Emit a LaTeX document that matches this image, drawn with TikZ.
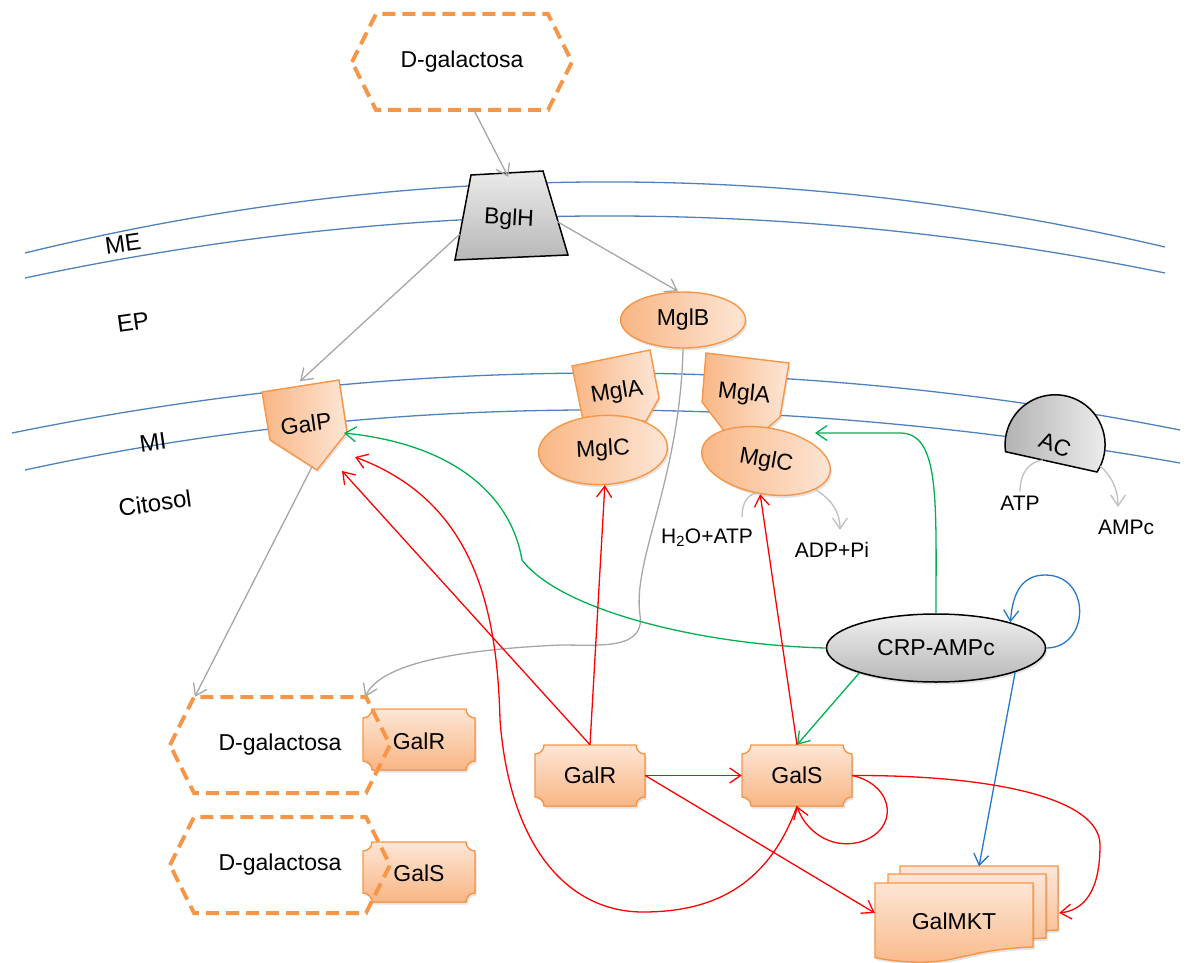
\documentclass[tikz,border=0pt]{standalone}
\usepackage{fontspec}
\setmainfont{Liberation Sans}
\usetikzlibrary{arrows.meta,shapes.geometric,shadows}

\definecolor{memb}{HTML}{4F81BD}
\definecolor{orl}{HTML}{F79646}
\definecolor{orA}{HTML}{F9B684}
\definecolor{orB}{HTML}{FDE6D6}
\definecolor{gtr}{HTML}{A6A6A6}
\definecolor{glt}{HTML}{BFBFBF}
\definecolor{rd}{HTML}{FF0000}
\definecolor{gn}{HTML}{00B050}
\definecolor{bl}{HTML}{2878C8}

% outline helpers (centre x, centre y, ...)
\newcommand\hexapath[2]{({#1-110},{#2}) -- ({#1-86},{#2+48}) -- ({#1+86},{#2+48}) -- ({#1+110},{#2}) -- ({#1+86},{#2-48}) -- ({#1-86},{#2-48}) -- cycle}
\newcommand\plaquepath[4]{%
({#1-#3+9},{#2+#4}) -- ({#1+#3-9},{#2+#4})
.. controls ({#1+#3-9},{#2+#4-5}) and ({#1+#3-5},{#2+#4-9}) .. ({#1+#3},{#2+#4-9})
-- ({#1+#3},{#2-#4+9})
.. controls ({#1+#3-5},{#2-#4+9}) and ({#1+#3-9},{#2-#4+5}) .. ({#1+#3-9},{#2-#4})
-- ({#1-#3+9},{#2-#4})
.. controls ({#1-#3+9},{#2-#4+5}) and ({#1-#3+5},{#2-#4+9}) .. ({#1-#3},{#2-#4+9})
-- ({#1-#3},{#2+#4-9})
.. controls ({#1-#3+5},{#2+#4-9}) and ({#1-#3+9},{#2+#4-5}) .. ({#1-#3+9},{#2+#4})
-- cycle}
\newcommand\docpath[2]{({#1},{#2}) -- ({#1+158},{#2}) -- ({#1+158},{#2-64}) .. controls ({#1+79},{#2-66.7}) and ({#1+79},{#2-88.6}) .. ({#1},{#2-74.7}) -- cycle}

\begin{document}
\begin{tikzpicture}[x=1pt,y=1pt,
  txt/.style={font=\fontsize{23}{27}\selectfont, inner sep=0pt},
  small/.style={font=\fontsize{21}{25}\selectfont, inner sep=0pt},
  lbl/.style={font=\fontsize{24}{28}\selectfont, inner sep=0pt, rotate=8},
  arr/.style={line width=1.3pt, -{Straight Barb[length=11pt,width=15pt]}},
  grayarr/.style={arr, draw=gtr},
  lgrayarr/.style={arr, draw=glt},
  redarr/.style={arr, draw=rd},
  greenarr/.style={arr, draw=gn},
  bluearr/.style={arr, draw=bl},
  membrane/.style={draw=memb, line width=1.3pt},
  shade/.style={drop shadow={opacity=0.22, shadow xshift=1.5pt, shadow yshift=-2.5pt}},
  orangeTB/.style={draw=orl, line width=1.4pt, top color=orB, bottom color=orA},
  orangeLR/.style={draw=orl, line width=1.4pt, left color=orA, right color=orB},
  greyfill/.style={draw=black, line width=1.5pt, top color=black!8, bottom color=black!28},
  dashhex/.style={draw=orl, line width=4pt, dash pattern=on 13pt off 7pt}
]
\useasboundingbox (0,0) rectangle (1188,-963);

% cell envelope: outer membrane (ME) and inner membrane (MI)
\draw[membrane] (25,-253) .. controls (405,-160.3) and (785,-158.3) .. (1165,-247);
\draw[membrane] (25,-278) .. controls (405,-197) and (785,-195.3) .. (1165,-273);
\draw[membrane] (12,-433) .. controls (401.3,-354) and (790.7,-353) .. (1180,-430);
\draw[membrane] (25,-470) .. controls (381.7,-392.3) and (766.7,-390) .. (1180,-463);

\node[lbl] (lme) at (123,-244) {ME};
\node[lbl] (lep) at (133,-322) {EP};
\node[lbl] (lmi) at (153,-442) {MI};
\node[lbl] (lcit) at (155,-503) {Citosol};

% external galactose
\draw[dashhex] \hexapath{462}{-62};
\node[txt, minimum width=220pt, minimum height=96pt] (dtop) at (462,-62) {D-galactosa};

% porin BglH
\filldraw[greyfill] (471,-175) -- (543,-171) -- (568,-255) -- (455,-260) -- cycle;
\node[txt, rotate=-3, minimum width=96pt, minimum height=84pt] (bglh) at (509,-219) {BglH};

% MglB periplasmic binding protein
\node[txt, ellipse, orangeLR, shade, minimum width=125pt, minimum height=56pt] (mglb) at (683,-320) {MglB};

% MglA subunits
\filldraw[orangeLR, shade] (572,-366) -- (650,-350) -- (659,-398) -- (646,-421) -- (583,-420) -- cycle;
\node[txt, rotate=9] (mgla1) at (617,-393) {MglA};
\filldraw[orangeLR, shade] (706,-353) -- (789,-363) -- (780,-417) -- (763,-432) -- (725,-432) -- (702,-402) -- cycle;
\node[txt, rotate=-6] (mgla2) at (744,-394) {MglA};

% MglC subunits
\node[txt, ellipse, orangeLR, shade, rotate=3, minimum width=129pt, minimum height=69pt] (mglc1) at (603,-450) {MglC};
\node[txt, ellipse, orangeLR, shade, rotate=-10, minimum width=130pt, minimum height=66pt] (mglc2) at (766,-461) {MglC};

% GalP permease
\filldraw[orangeLR, shade] (262,-392) -- (339,-380) -- (347,-432) -- (317,-470) -- (270,-440) -- cycle;
\node[txt, rotate=8, minimum width=80pt, minimum height=86pt] (galp) at (306,-424) {GalP};

% adenylate cyclase
\filldraw[draw=black, line width=1.5pt, left color=black!30, right color=black!6] (1097,-472) arc[start angle=-33, end angle=188, radius=50] -- cycle;
\node[txt, rotate=-20] (ac) at (1055,-445) {AC};
\node[small] (atp) at (1020,-503) {ATP};
\node[small] (ampc) at (1126,-527) {AMPc};
\node[small] (h2o) at (707,-538) {H\textsubscript{2}O+ATP};
\node[small] (adp) at (832,-550) {ADP+Pi};

% CRP-cAMP complex
\node[txt, ellipse, draw=black, line width=1.5pt, top color=black!6, bottom color=black!28, shade, minimum width=219pt, minimum height=68pt] (crp) at (936,-648) {CRP-AMPc};

% intracellular galactose bound to regulators
\filldraw[orangeTB, shade] \plaquepath{419}{-739.5}{56}{30.5};
\node[txt] (galr1) at (419,-741) {GalR};
\filldraw[orangeTB, shade] \plaquepath{419}{-872}{56}{30};
\node[txt] (gals1) at (419,-873) {GalS};
\draw[dashhex] \hexapath{280}{-745};
\node[txt, minimum width=220pt, minimum height=96pt] (dgal1) at (280,-745) {D-galactosa};
\draw[dashhex] \hexapath{280}{-865};
\node[txt, minimum width=220pt, minimum height=96pt] (dgal2) at (280,-865) {D-galactosa};

% regulators
\filldraw[orangeTB, shade] \plaquepath{590}{-775.5}{55}{30.5};
\node[txt, minimum width=110pt, minimum height=61pt] (galr) at (590,-775.5) {GalR};
\filldraw[orangeTB, shade] \plaquepath{797}{-775.5}{55}{30.5};
\node[txt, minimum width=110pt, minimum height=61pt] (gals) at (797,-775.5) {GalS};

% galMKT operon
\filldraw[orangeTB, shade] \docpath{900}{-866};
\filldraw[orangeTB, shade] \docpath{888}{-874};
\filldraw[orangeTB, shade] \docpath{875}{-883};
\node[txt, minimum width=158pt, minimum height=75pt] (galmkt) at (954,-921) {GalMKT};

% docking points on the borders
\coordinate (gpG) at (344,-433);
\coordinate (gpR1) at (342,-471);
\coordinate (gpR2) at (355,-457);
\coordinate (mglG) at (815,-433);
\coordinate (acIn) at (1043,-460);
\coordinate (acOut) at (1100,-466);
\coordinate (ampIn) at (1118,-507);
\coordinate (hIn) at (742,-517);
\coordinate (mIn) at (756,-493);
\coordinate (adpIn) at (840,-530);

% transport
\draw[grayarr] ([xshift=12pt]dtop.south) -- ([xshift=-3pt]bglh.north);
\draw[grayarr] (bglh.200) -- (galp.north);
\draw[grayarr] (bglh.east) -- ([xshift=-5pt]mglb.north);
\draw[grayarr] (galp.south) -- ([xshift=25pt]dgal1.north west);
\draw[grayarr] (mglb.south) .. controls (680,-480) and (632,-560) .. (640,-615)
  .. controls (645,-650) and (600,-645) .. (560,-645)
  .. controls (450,-650) and (380,-665) .. ([xshift=-25pt]dgal1.north east);

% energy side reactions
\draw[line width=1.3pt, draw=glt] ([yshift=4pt]atp.north) .. controls (1020,-474) and (1028,-462) .. (acIn);
\draw[lgrayarr] (acOut) .. controls (1112,-476) and (1118,-490) .. (ampIn);
\draw[line width=1.3pt, draw=glt] (hIn) .. controls (742,-502) and (748,-495) .. (mIn);
\draw[lgrayarr] (mglc2.-20) .. controls (832,-500) and (840,-512) .. (adpIn);

% CRP-AMPc activation
\draw[greenarr] (crp.west) .. controls (700,-645) and (560,-610) .. (522,-560)
  .. controls (512,-500) and (460,-445) .. (gpG);
\draw[greenarr] (crp.north) .. controls (936,-500) and (940,-433) .. (900,-433) -- (mglG);
\draw[greenarr] (crp.198) -- (gals.north);
\draw[bluearr] (crp.east) .. controls (1090,-648) and (1092,-575) .. (1045,-575)
  .. controls (1018,-575) and (1012,-600) .. (crp.19);
\draw[bluearr] (crp.-17) -- ([xshift=25pt,yshift=17pt]galmkt.north);

% repression by GalR / GalS
\draw[redarr] (galr.north) -- (mglc1.south);
\draw[redarr] (galr.north) -- (gpR1);
\draw[redarr] (galr.east) -- (gals.west);
\draw[redarr] (galr.east) -- ([yshift=8pt]galmkt.west);
\draw[redarr] (gals.north) -- (mglc2.south);
\draw[redarr] (gals.south) .. controls (770,-880) and (720,-912) .. (643,-912)
  .. controls (570,-912) and (510,-850) .. (500,-720)
  .. controls (497,-600) and (470,-500) .. (gpR2);
\draw[redarr] (gals.east) .. controls (895,-785) and (900,-830) .. (860,-842)
  .. controls (830,-850) and (805,-830) .. (gals.south);
\draw[redarr] (gals.east) .. controls (1000,-775) and (1100,-800) .. (1100,-845)
  .. controls (1100,-890) and (1085,-910) .. ([xshift=26pt,yshift=8pt]galmkt.east);
\end{tikzpicture}
\end{document}
